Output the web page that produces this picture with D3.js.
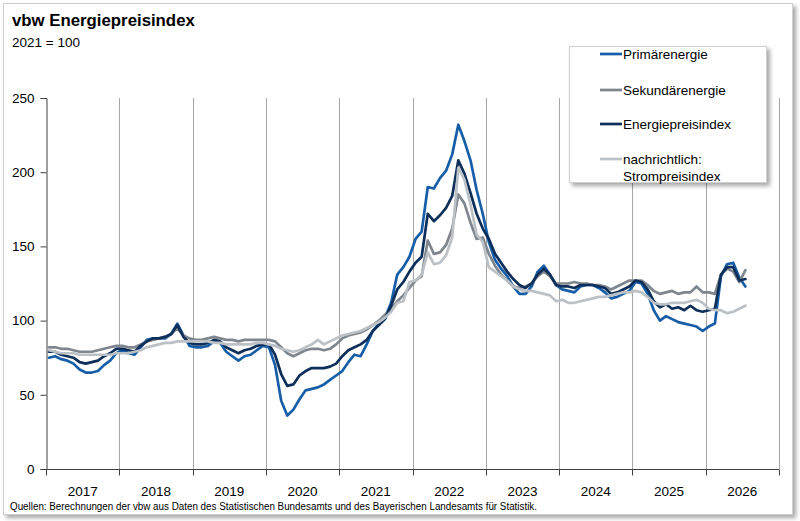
<!DOCTYPE html>
<html><head><meta charset="utf-8">
<script src="https://cdn.jsdelivr.net/npm/d3@7/dist/d3.min.js"></script>
<style>
body{margin:0;background:#fff}
text{font-family:"Liberation Sans",Arial,sans-serif;fill:#000}
</style>
</head><body>
<svg id="chart" width="800" height="521"></svg>
<script>
// ---- data (monthly, Jan 2017 – Jul 2026) ----
const years = ["2017","2018","2019","2020","2021","2022","2023","2024","2025","2026"];
const yTicks = [0,50,100,150,200,250];
const seriesNames = ["Primärenergie","Sekundärenergie","Energiepreisindex","nachrichtlich: Strompreisindex"];

const primaer = [
 75,76,74,73,71,67,65,65,66,70,73,78,
 80,78,77,82,87,88,88,88,91,98,90,83,
 82,82,83,86,85,79,76,73,76,77,80,83,
 82,70,46,36,40,47,53,54,55,57,60,63,
 66,72,77,76,84,93,98,102,112,131,136,143,
 155,160,190,189,196,201,212,232,221,208,188,172,
 153,141,135,130,123,118,118,123,133,137,131,124,
 121,120,119,123,124,124,122,119,115,116,118,120,
 126,125,118,107,100,103,101,99,98,97,96,93,
 96,98,130,138,139,129,123
];
const sekundaer = [
 82,82,81,81,80,79,79,79,80,81,82,83,
 83,82,82,84,86,87,88,89,91,95,90,88,
 87,87,88,89,88,87,87,86,87,87,87,87,
 87,86,82,78,76,78,80,81,81,80,81,84,
 88,90,91,92,94,97,100,104,108,113,117,122,
 127,130,154,145,146,151,162,185,179,166,155,156,
 145,137,131,127,123,122,123,125,130,133,130,125,
 125,125,126,125,125,124,124,123,121,123,125,127,
 127,127,124,120,118,119,120,118,119,119,123,119,
 119,118,131,135,133,126,134
];
const energie = [
 79,79,77,76,75,72,71,72,73,76,78,81,
 81,80,79,83,86,88,88,89,91,97,89,85,
 84,84,85,87,86,82,80,78,80,81,83,84,
 84,77,64,56,57,63,66,68,68,68,69,71,
 76,80,82,84,87,93,97,101,110,121,126,133,
 139,143,172,167,171,176,184,208,199,186,172,162,
 155,145,139,133,128,124,122,125,131,135,131,124,
 123,123,122,124,124,124,123,122,118,119,121,123,
 127,126,121,113,109,111,108,109,107,110,107,106,
 107,108,131,136,136,127,128
];
const strom = [
 80,79,78,78,78,77,77,77,77,77,77,78,
 78,78,79,80,82,83,84,85,85,86,86,86,
 86,86,86,85,85,84,84,84,84,84,85,85,
 84,83,81,80,79,80,82,84,87,84,86,88,
 90,91,92,93,95,97,99,102,106,112,113,126,
 127,131,146,138,139,144,156,203,195,178,158,153,
 136,133,130,127,123,121,120,120,119,118,117,113,
 114,112,112,113,114,115,116,116,117,118,119,119,
 120,119,116,112,111,111,112,112,112,113,114,112,
 108,107,107,105,106,108,110
];
const colors = ["#175ea8","#7f868e","#0e2f5a","#bcc1c6"];

// ---- drawing ----
const svg = d3.select("#chart");
const defs = svg.append("defs");
const f = defs.append("filter").attr("id","shadow").attr("x","-5%").attr("y","-5%").attr("width","115%").attr("height","115%");
f.append("feDropShadow").attr("dx",3).attr("dy",3).attr("stdDeviation",2).attr("flood-color","#000").attr("flood-opacity",0.35);

// outer frame
svg.append("rect").attr("x",3.5).attr("y",3.5).attr("width",789).attr("height",511)
  .attr("fill","#fff").attr("stroke","#d0d0d0").attr("filter","url(#shadow)");

const L = 46, R = 779, T = 98, B = 469;
const nMonths = years.length*12;
const x = d3.scaleLinear().domain([0,nMonths]).range([L,R]);
const y = d3.scaleLinear().domain([0,250]).range([B,T]);

// title
svg.append("text").attr("x",12).attr("y",26).attr("font-size",16.8).attr("font-weight","bold").text("vbw Energiepreisindex");
svg.append("text").attr("x",12).attr("y",47).attr("font-size",13.5).text("2021 = 100");

// vertical year gridlines
const g = svg.append("g");
g.selectAll("line.grid").data(d3.range(1,years.length+1)).join("line")
  .attr("x1",d=>Math.round(x(d*12))+0.5).attr("x2",d=>Math.round(x(d*12))+0.5)
  .attr("y1",T).attr("y2",B).attr("stroke","#a6a6a6").attr("stroke-width",1);

// y axis
const yAxis = d3.axisLeft(y).tickValues(yTicks).tickSize(6).tickPadding(6);
const ya = svg.append("g").attr("transform",`translate(${L+0.5},0)`).call(yAxis);
ya.select(".domain").attr("stroke","#404040");
ya.selectAll(".tick line").attr("stroke","#404040");
ya.selectAll(".tick text").attr("font-size",13.5).attr("font-family","Liberation Sans, Arial, sans-serif").attr("fill","#000");

// x axis (year boundaries as ticks, labels centred in year)
const xa = svg.append("g").attr("transform",`translate(0,${B+0.5})`);
xa.append("line").attr("x1",L).attr("x2",R).attr("stroke","#404040");
xa.selectAll("line.t").data(d3.range(0,years.length+1)).join("line")
  .attr("x1",d=>Math.round(x(d*12))+0.5).attr("x2",d=>Math.round(x(d*12))+0.5)
  .attr("y1",0).attr("y2",6).attr("stroke","#404040");
xa.selectAll("text").data(years).join("text")
  .attr("x",(d,i)=>x(i*12+6)).attr("y",26).attr("text-anchor","middle").attr("font-size",13.5).text(d=>d);

// lines
const all = [primaer,sekundaer,energie,strom];
const line = d3.line().x((d,i)=>x(i+0.5)).y(d=>y(d));
svg.append("g").selectAll("path").data(all).join("path")
  .attr("d",d=>line(d)).attr("fill","none")
  .attr("stroke",(d,i)=>colors[i]).attr("stroke-width",2.7)
  .attr("stroke-linejoin","round").attr("stroke-linecap","round");

// legend
const lg = svg.append("g");
lg.append("rect").attr("x",569.5).attr("y",46.5).attr("width",197).attr("height",136)
  .attr("fill","#fff").attr("stroke","#d0d0d0").attr("filter","url(#shadow)");
const legY = [54,90,124,159];
seriesNames.forEach((name,i)=>{
  lg.append("line").attr("x1",600).attr("x2",622).attr("y1",legY[i]).attr("y2",legY[i])
    .attr("stroke",colors[i]).attr("stroke-width",2.7);
  if(i<3){
    lg.append("text").attr("x",623).attr("y",legY[i]+4.5).attr("font-size",13.5).text(name);
  } else {
    const parts = name.split(" ");
    lg.append("text").attr("x",623).attr("y",legY[i]+4.5).attr("font-size",13.5).text(parts[0]);
    lg.append("text").attr("x",623).attr("y",legY[i]+22).attr("font-size",13.5).text(parts[1]);
  }
});

// source
svg.append("text").attr("x",10).attr("y",510).attr("font-size",10)
  .attr("textLength",527).attr("lengthAdjust","spacingAndGlyphs")
  .text("Quellen: Berechnungen der vbw aus Daten des Statistischen Bundesamts und des Bayerischen Landesamts für Statistik.");
</script>
</body></html>
